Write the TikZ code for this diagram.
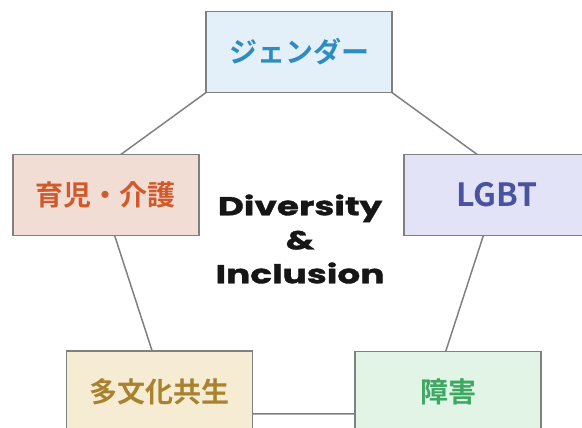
\documentclass[tikz,border=0pt]{standalone}
\usepackage{fontspec}
\newfontfamily\jpfont{Noto Sans CJK JP}[BoldFont={* Bold}]
\newfontfamily\popfont{Poppins}[BoldFont={* Bold},BoldFeatures={FakeStretch=1.38,FakeBold=1.4}]
\definecolor{edgegray}{HTML}{808080}
\definecolor{gfill}{HTML}{E3F0F9}\definecolor{gtext}{HTML}{2E8CC0}
\definecolor{cfill}{HTML}{F2DDD5}\definecolor{ctext}{HTML}{D05A2C}
\definecolor{lfill}{HTML}{E3E3F8}\definecolor{ltext}{HTML}{4A539E}
\definecolor{mfill}{HTML}{F5ECD3}\definecolor{mtext}{HTML}{A8822E}
\definecolor{dfill}{HTML}{E2F4E6}\definecolor{dtext}{HTML}{3DA862}
\definecolor{centertext}{HTML}{161616}
\begin{document}
\begin{tikzpicture}[x=1pt,y=-1pt,
  topicbox/.style={draw=edgegray,line width=1.5pt,minimum width=186pt,minimum height=81pt,inner sep=0pt,
    font=\jpfont\bfseries\fontsize{28}{32}\selectfont},
  link/.style={draw=edgegray,line width=1.5pt}]
\useasboundingbox (0,0) rectangle (582,428);
\coordinate (vT) at (299,25);
\coordinate (vUL) at (94.5,173.6);
\coordinate (vUR) at (503.5,173.6);
\coordinate (vLL) at (172.6,413.9);
\coordinate (vLR) at (425.4,413.9);
\draw[link] (vT) -- (vUR) -- (vLR) -- (vLL) -- (vUL) -- cycle;
\node[topicbox,fill=gfill,text=gtext] (gender) at (299,52) {ジェンダー};
\node[topicbox,fill=cfill,text=ctext] (care) at (105.8,195) {育児・介護};
\node[topicbox,fill=lfill,text=ltext,font=\jpfont\bfseries\fontsize{32}{36}\selectfont] (lgbt) at (497,195) {LGBT};
\node[topicbox,fill=mfill,text=mtext] (multi) at (159.7,391.5) {多文化共生};
\node[topicbox,fill=dfill,text=dtext] (disab) at (448,391.8) {障害};
\node[align=center,text=centertext,font=\popfont\bfseries\fontsize{26}{34}\selectfont] (title) at (300,239) {Diversity\\\&\\Inclusion};
\end{tikzpicture}
\end{document}
